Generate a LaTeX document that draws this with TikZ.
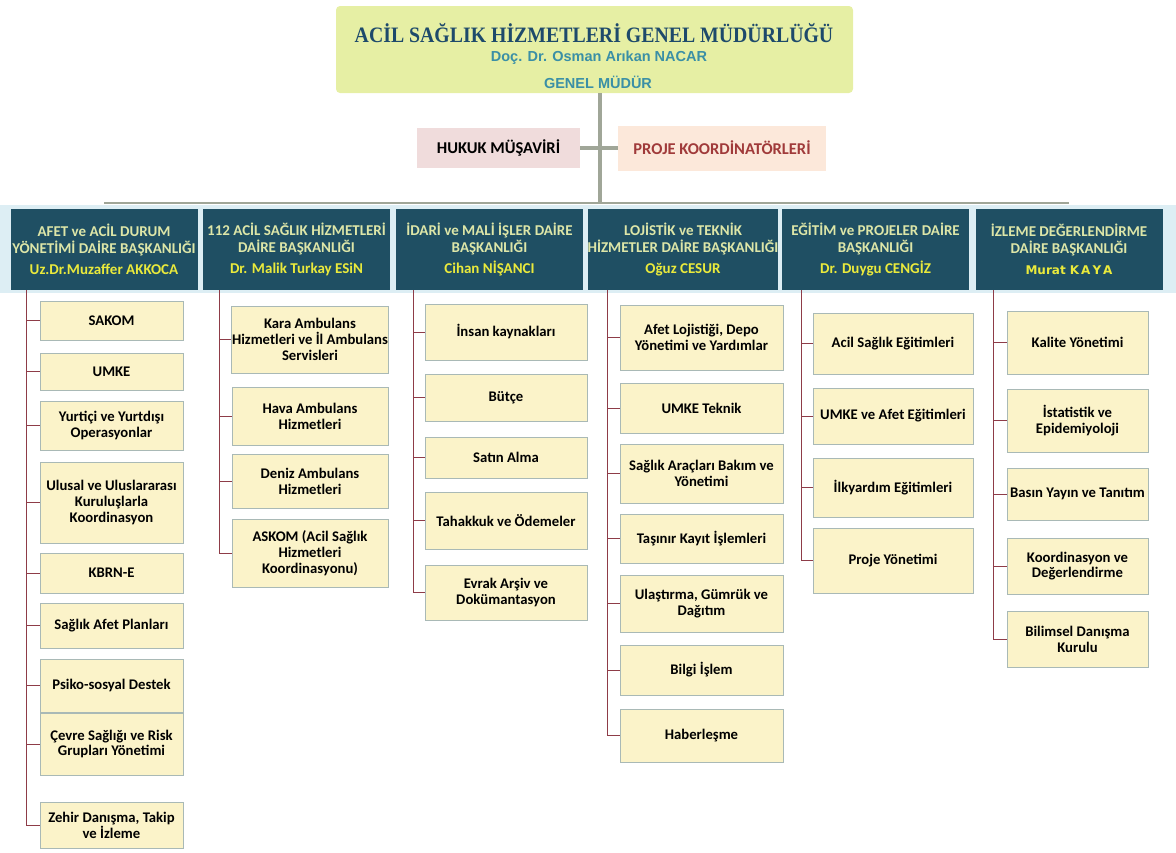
\documentclass[tikz,border=0pt]{standalone}
\usepackage{fontspec}
\setmainfont{Carlito}
\newfontfamily\titlefont[FakeStretch=0.9]{Liberation Serif}
\newfontfamily\namefont{Liberation Sans}
\newfontfamily\kayafont{DejaVu Sans}
\usetikzlibrary{positioning}

\definecolor{topfill}{HTML}{E6EFA4}
\definecolor{titleblue}{HTML}{1E4A6B}
\definecolor{nameteal}{HTML}{3A8FA6}
\definecolor{hukukfill}{HTML}{F0DCDC}
\definecolor{projefill}{HTML}{FCE8DA}
\definecolor{projered}{HTML}{A03A3A}
\definecolor{trunkgray}{HTML}{A0A698}
\definecolor{bandblue}{HTML}{DDEEF4}
\definecolor{headfill}{HTML}{1F4F63}
\definecolor{headtext}{HTML}{DDE6A8}
\definecolor{headname}{HTML}{EAEA3C}
\definecolor{subfill}{HTML}{FBF3C9}
\definecolor{subline}{HTML}{A9B9B6}
\definecolor{branch}{HTML}{8E3C48}

\begin{document}
\begin{tikzpicture}[
		x=1pt, y=-1pt,
		gmbox/.style={fill=topfill, rounded corners=4pt, minimum width=517, minimum height=87},
		advisor/.style={minimum height=40, font=\fontsize{16.5}{18}\selectfont\bfseries},
		headbox/.style={fill=headfill, text=headtext, minimum width=187, minimum height=81,
			align=center, inner sep=0pt, font=\fontsize{15}{17.5}\selectfont\bfseries},
		subbox/.style={draw=subline, fill=subfill, line width=0.8pt, align=center, inner sep=0.5pt,
			font=\fontsize{14.7}{15.8}\selectfont\bfseries},
		c1/.style={subbox, minimum width=143},
		c2/.style={subbox, minimum width=156},
		c3/.style={subbox, minimum width=162},
		c4/.style={subbox, minimum width=163},
		c5/.style={subbox, minimum width=160},
		c6/.style={subbox, minimum width=141},
		wire/.style={draw=branch, line width=0.9pt},
		trunk/.style={draw=trunkgray, line width=3.5pt},
	]
		\useasboundingbox (0,0) rectangle (1176,852);
		\fill[bandblue] (0,205) rectangle (1176,293);
		
		% general directorate
		\node (gm) [gmbox] at (594.5,49.5) {};
		\node (gmtitle) [text=titleblue, font=\titlefont\fontsize{22}{22}\selectfont\bfseries] at (594,33) {ACİL SAĞLIK HİZMETLERİ GENEL MÜDÜRLÜĞÜ};
		\node (gmname) [text=nameteal, font=\namefont\fontsize{14.5}{16}\selectfont\bfseries] at (599,58) {Doç. Dr. Osman Arıkan NACAR};
		\node (gmrole) [text=nameteal, font=\namefont\fontsize{14.5}{16}\selectfont\bfseries] at (598,82) {GENEL MÜDÜR};
		
		% advisors
		\node (hukuk) [advisor, fill=hukukfill, minimum width=163] at (498.5,148) {HUKUK MÜŞAVİRİ};
		\node (proje) [advisor, fill=projefill, text=projered, minimum width=208, minimum height=45] at (722,148) {PROJE KOORDİNATÖRLERİ};
		
		% departments
		\node (h1) [headbox] at (104,249) {AFET ve ACİL DURUM\\YÖNETİMİ DAİRE BAŞKANLIĞI\\[3pt]\textcolor{headname}{Uz.Dr.Muzaffer AKKOCA}};
		\node (h2) [headbox] at (296.5,249) {112 ACİL SAĞLIK HİZMETLERİ\\DAİRE BAŞKANLIĞI\\[3pt]\textcolor{headname}{Dr. Malik Turkay ESiN}};
		\node (h3) [headbox] at (489.5,249) {İDARİ ve MALİ İŞLER DAİRE\\BAŞKANLIĞI\\[3pt]\textcolor{headname}{Cihan NİŞANCI}};
		\node (h4) [headbox] at (683,249) {LOJİSTİK ve TEKNİK\\HİZMETLER DAİRE BAŞKANLIĞI\\[3pt]\textcolor{headname}{Oğuz CESUR}};
		\node (h5) [headbox] at (875.5,249) {EĞİTİM ve PROJELER DAİRE\\BAŞKANLIĞI\\[3pt]\textcolor{headname}{Dr. Duygu CENGİZ}};
		\node (h6) [headbox] at (1069,249) {İZLEME DEĞERLENDİRME\\DAİRE BAŞKANLIĞI\\[3pt]\textcolor{headname}{\kayafont\fontsize{12}{17.5}\selectfont Murat K\,A\,Y\,A}};
		
		% gray trunk
		\coordinate (split) at (600,203);
		\draw[trunk] (gm.south -| split) -- (split);
		\draw[trunk, line width=2.5pt] (h1.north |- split) -- (h6.north |- split);
		\draw[trunk] (hukuk.east) -- (proje.west);
		
		% units
		\node (sakom) [c1, minimum height=39] at (111.5,320.5) {SAKOM};
		\node (umke) [c1, minimum height=37] at (111.5,371.5) {UMKE};
		\node (yurtici) [c1, minimum height=49] at (111.5,425.5) {Yurtiçi ve Yurtdışı\\Operasyonlar};
		\node (ulusal) [c1, minimum height=81] at (111.5,502.5) {Ulusal ve Uluslararası\\Kuruluşlarla\\Koordinasyon};
		\node (kbrn) [c1, minimum height=40] at (111.5,573) {KBRN-E};
		\node (afetplan) [c1, minimum height=45] at (111.5,625.5) {Sağlık Afet Planları};
		\node (psiko) [c1, minimum height=53] at (111.5,685.5) {Psiko-sosyal Destek};
		\node (cevre) [c1, minimum height=62] at (111.5,744) {Çevre Sağlığı ve Risk\\Grupları Yönetimi};
		\node (zehir) [c1, minimum height=46] at (111.5,825) {Zehir Danışma, Takip\\ve İzleme};
		
		\node (kara) [c2, minimum height=67] at (310,339.5) {Kara Ambulans\\Hizmetleri ve İl Ambulans\\Servisleri};
		\node (hava) [c2, minimum height=58] at (310,416) {Hava Ambulans\\Hizmetleri};
		\node (deniz) [c2, minimum height=54] at (310,481) {Deniz Ambulans\\Hizmetleri};
		\node (askom) [c2, minimum height=68] at (310,553) {ASKOM (Acil Sağlık\\Hizmetleri\\Koordinasyonu)};
		
		\node (insan) [c3, minimum height=56] at (506,332) {İnsan kaynakları};
		\node (butce) [c3, minimum height=47] at (506,397.5) {Bütçe};
		\node (satin) [c3, minimum height=41] at (506,457.5) {Satın Alma};
		\node (tahakkuk) [c3, minimum height=57] at (506,520.5) {Tahakkuk ve Ödemeler};
		\node (evrak) [c3, minimum height=55] at (506,592.5) {Evrak Arşiv ve\\Dokümantasyon};
		
		\node (lojistik) [c4, minimum height=65] at (701.5,337.5) {Afet Lojistiği, Depo\\Yönetimi ve Yardımlar};
		\node (umketek) [c4, minimum height=50] at (701.5,408) {UMKE Teknik};
		\node (araclar) [c4, minimum height=59] at (701.5,473.5) {Sağlık Araçları Bakım ve\\Yönetimi};
		\node (tasinir) [c4, minimum height=49] at (701.5,538.5) {Taşınır Kayıt İşlemleri};
		\node (ulastirma) [c4, minimum height=57] at (701.5,603.5) {Ulaştırma, Gümrük ve\\Dağıtım};
		\node (bilgi) [c4, minimum height=50] at (701.5,670) {Bilgi İşlem};
		\node (haber) [c4, minimum height=53] at (701.5,735.5) {Haberleşme};
		
		\node (acilegt) [c5, minimum height=61] at (893,343.5) {Acil Sağlık Eğitimleri};
		\node (umkeafet) [c5, minimum height=56] at (893,416) {UMKE ve Afet Eğitimleri};
		\node (ilkyardim) [c5, minimum height=59] at (893,487.5) {İlkyardım Eğitimleri};
		\node (projeyon) [c5, minimum height=65] at (893,560.5) {Proje Yönetimi};
		
		\node (kalite) [c6, minimum height=63] at (1077.5,342.5) {Kalite Yönetimi};
		\node (istatistik) [c6, minimum height=63] at (1077.5,420.5) {İstatistik ve\\Epidemiyoloji};
		\node (basin) [c6, minimum height=52] at (1077.5,494) {Basın Yayın ve Tanıtım};
		\node (koord) [c6, minimum height=56] at (1077.5,566) {Koordinasyon ve\\Değerlendirme};
		\node (bilimsel) [c6, minimum height=56] at (1077.5,639) {Bilimsel Danışma\\Kurulu};
		
		% branch lines
		\coordinate (sp1) at (26,290);
		\coordinate (sp2) at (219,290);
		\coordinate (sp3) at (413,290);
		\coordinate (sp4) at (607,290);
		\coordinate (sp5) at (801,290);
		\coordinate (sp6) at (993,290);
		\foreach \b in {sakom,umke,yurtici,ulusal,kbrn,afetplan,psiko,cevre,zehir}
			\draw[wire] (sp1) |- (\b.west);
		\foreach \b in {kara,hava,deniz,askom}
			\draw[wire] (sp2) |- (\b.west);
		\foreach \b in {insan,butce,satin,tahakkuk,evrak}
			\draw[wire] (sp3) |- (\b.west);
		\foreach \b in {lojistik,umketek,araclar,tasinir,ulastirma,bilgi,haber}
			\draw[wire] (sp4) |- (\b.west);
		\foreach \b in {acilegt,umkeafet,ilkyardim,projeyon}
			\draw[wire] (sp5) |- (\b.west);
		\foreach \b in {kalite,istatistik,basin,koord,bilimsel}
			\draw[wire] (sp6) |- (\b.west);
	\end{tikzpicture}
\end{document}
